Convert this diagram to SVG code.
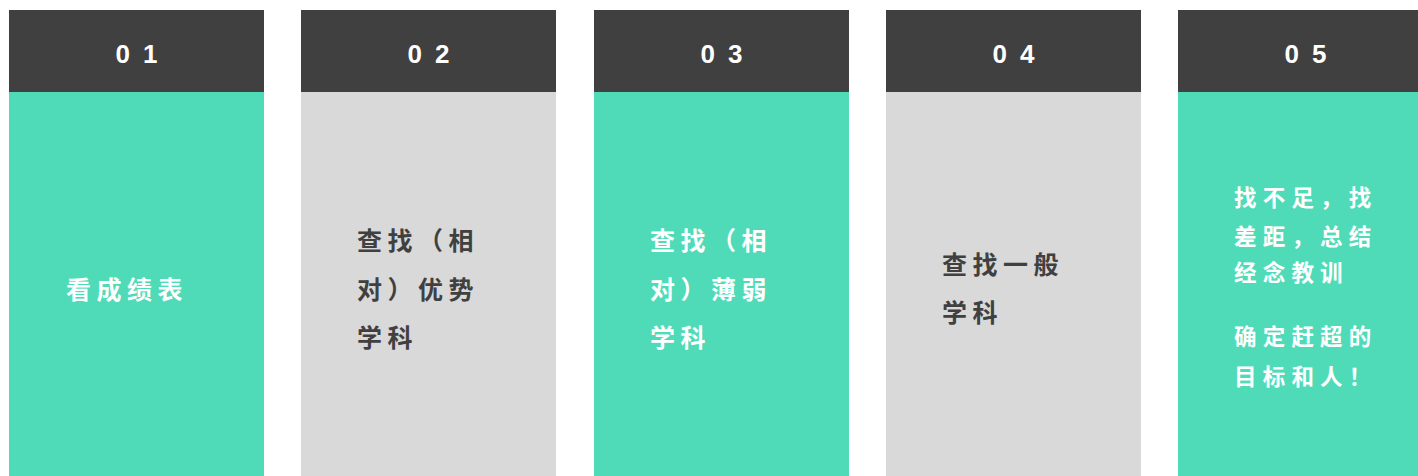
<svg xmlns="http://www.w3.org/2000/svg" width="1418" height="476" viewBox="0 0 1418 476">
<style>
.hd{fill:#404040}
.g{fill:#50DBB8}
.y{fill:#D9D9D9}
.num{font-family:"Liberation Sans",Arial,sans-serif;font-weight:bold;font-size:26px;fill:#FFFFFF;text-anchor:middle;letter-spacing:3px}
.t{font-family:"Noto Sans CJK SC","Noto Sans",sans-serif;font-weight:bold;font-size:25px;letter-spacing:5.5px}
.s{font-family:"Noto Sans CJK SC","Noto Sans",sans-serif;font-weight:bold;font-size:22.5px;letter-spacing:6.2px;fill:#FFFFFF}
.w{fill:#FFFFFF}
.d{fill:#404040}
</style>
<rect width="1418" height="476" fill="#FFFFFF"/>
<g id="node1">
<rect class="g" x="9" y="92" width="255" height="384"/>
<rect class="hd" x="9" y="10" width="255" height="82"/>
<text class="num" x="138" y="63">0 1</text>
<text class="t w" x="66" y="299">看成绩表</text>
</g>
<g id="node2">
<rect class="y" x="301" y="92" width="255" height="384"/>
<rect class="hd" x="301" y="10" width="255" height="82"/>
<text class="num" x="430" y="63">0 2</text>
<text class="t d" x="357" y="250">查找（相</text>
<text class="t d" x="357" y="299">对）优势</text>
<text class="t d" x="357" y="347">学科</text>
</g>
<g id="node3">
<rect class="g" x="594" y="92" width="255" height="384"/>
<rect class="hd" x="594" y="10" width="255" height="82"/>
<text class="num" x="723" y="63">0 3</text>
<text class="t w" x="650" y="250">查找（相</text>
<text class="t w" x="650" y="299">对）薄弱</text>
<text class="t w" x="650" y="347">学科</text>
</g>
<g id="node4">
<rect class="y" x="886" y="92" width="255" height="384"/>
<rect class="hd" x="886" y="10" width="255" height="82"/>
<text class="num" x="1015" y="63">0 4</text>
<text class="t d" x="942" y="274">查找一般</text>
<text class="t d" x="942" y="322">学科</text>
</g>
<g id="node5">
<rect class="g" x="1178" y="92" width="255" height="384"/>
<rect class="hd" x="1178" y="10" width="255" height="82"/>
<text class="num" x="1307" y="63">0 5</text>
<text class="s" x="1234" y="206">找不足，找</text>
<text class="s" x="1234" y="245">差距，总结</text>
<text class="s" x="1234" y="281">经念教训</text>
<text class="s" x="1234" y="345">确定赶超的</text>
<text class="s" x="1234" y="385">目标和人！</text>
</g>
<g id="connectors"></g>
</svg>
